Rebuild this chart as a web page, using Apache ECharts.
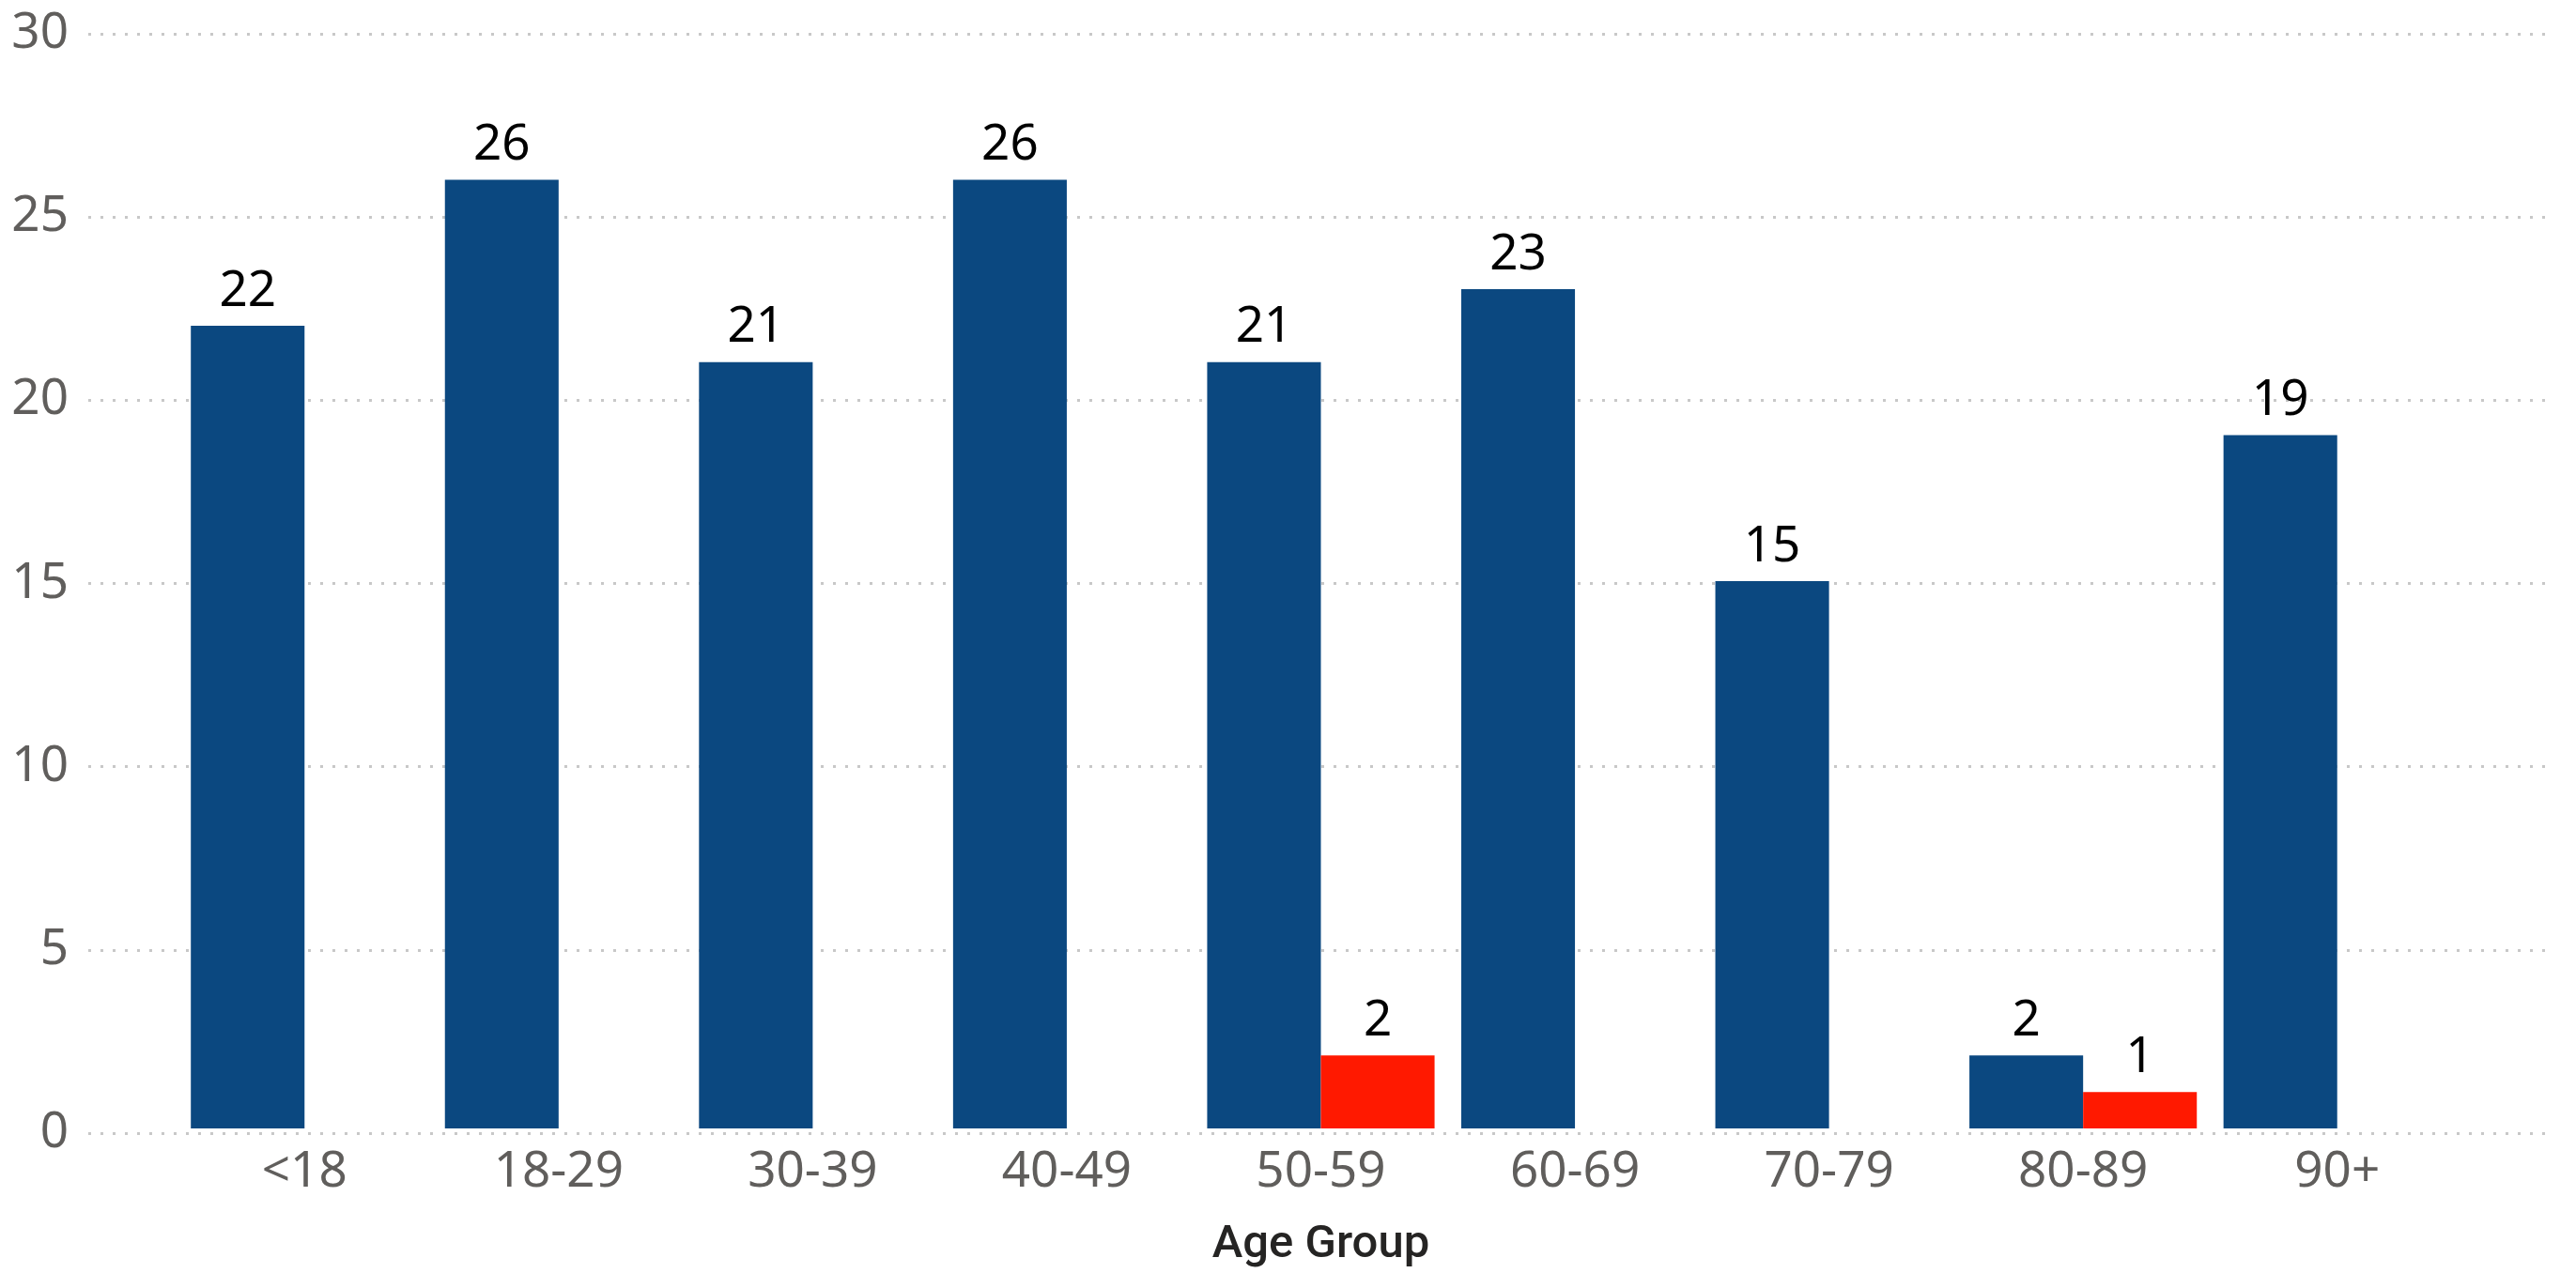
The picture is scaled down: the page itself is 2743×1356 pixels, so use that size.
<!DOCTYPE html>
<html>
<head>
<meta charset="utf-8">
<script src="https://cdn.jsdelivr.net/npm/echarts@6/dist/echarts.min.js"></script>
<style>
html,body{margin:0;padding:0;background:#fff;}
#chart{width:2743px;height:1356px;}
</style>
</head>
<body>
<div id="chart"></div>
<script>
const categories = ['<18','18-29','30-39','40-49','50-59','60-69','70-79','80-89','90+'];
const blueValues = [22,26,21,26,21,23,15,2,19];
const redValues  = [null,null,null,null,2,null,null,1,null];
const yTicks = {min:0, max:30, interval:5};
const xAxisTitle = 'Age Group';

const FONT = '"Segoe UI", "Noto Sans", sans-serif';
const chart = echarts.init(document.getElementById('chart'));
const labelCfg = {
  show:true, position:'top', distance:10,
  color:'#000000', fontFamily:FONT, fontSize:53, lineHeight:53
};
chart.setOption({
  animation:false,
  backgroundColor:'#ffffff',
  grid:[
    {left:94, right:30, top:36, bottom:149, containLabel:false},
    {left:189, right:119, top:36, bottom:149, containLabel:false}
  ],
  xAxis:[
    {gridIndex:0, type:'value', min:0, max:1, show:false},
    {gridIndex:1, type:'category', data:categories,
     axisLine:{show:false}, axisTick:{show:false},
     axisLabel:{color:'#605E5C', fontFamily:FONT, fontSize:53, lineHeight:53, margin:20},
     name:xAxisTitle, nameLocation:'middle', nameGap:100,
     nameTextStyle:{color:'#252423', fontFamily:'Roboto, "Noto Sans", sans-serif', fontWeight:500, fontSize:49, lineHeight:49}
    }
  ],
  yAxis:[
    {gridIndex:0, type:'value', min:yTicks.min, max:yTicks.max, interval:yTicks.interval,
     axisLine:{show:false}, axisTick:{show:false},
     axisLabel:{color:'#605E5C', fontFamily:FONT, fontSize:53, margin:21},
     splitLine:{show:true, lineStyle:{color:'#c8c8c8', width:3, type:[3,10]}}
    },
    {gridIndex:1, type:'value', min:yTicks.min, max:yTicks.max, interval:yTicks.interval, show:false}
  ],
  series:[
    {type:'bar', xAxisIndex:1, yAxisIndex:1, data:blueValues,
     itemStyle:{color:'#0B4880'}, barGap:'0%', barCategoryGap:'10.5%', label:labelCfg},
    {type:'bar', xAxisIndex:1, yAxisIndex:1, data:redValues,
     itemStyle:{color:'#FF1900'}, barGap:'0%', barCategoryGap:'10.5%', label:labelCfg}
  ]
});
</script>
</body>
</html>
